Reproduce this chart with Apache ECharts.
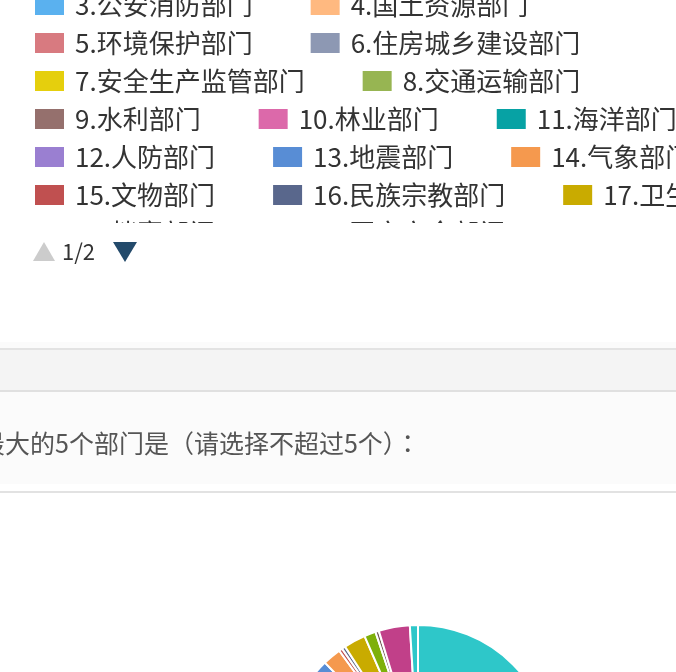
<!DOCTYPE html>
<html>
<head>
<meta charset="utf-8">
<script src="https://cdn.jsdelivr.net/npm/echarts@6/dist/echarts.min.js"></script>
<style>
html, body { margin: 0; padding: 0; background: #fff; overflow: hidden; }
#main { width: 676px; height: 672px; }
</style>
</head>
<body>
<div id="main"></div>
<script>
// 部门名称（图例 + 饼图共用）
var departments = ['1.应急管理部门', '2.民政部门', '3.公安消防部门', '4.国土资源部门', '5.环境保护部门',
    '6.住房城乡建设部门', '7.安全生产监管部门', '8.交通运输部门', '9.水利部门', '10.林业部门',
    '11.海洋部门', '12.人防部门', '13.地震部门', '14.气象部门', '15.文物部门', '16.民族宗教部门',
    '17.卫生部门', '18.档案部门', '19.国家安全部门', '20.新闻宣传部门', '21.其他'];
// 选择人数（从饼图扇区角度估读）
var counts = [216, 70, 60, 40, 50, 36, 44, 30, 24, 16, 10, 12, 24, 16, 3, 3, 19, 10, 3, 27, 7];
var palette = ['#2ec7c9', '#b6a2de', '#5ab1ef', '#ffb980', '#d87a80', '#8d98b3', '#e5cf0d', '#97b552',
    '#95706d', '#dc69aa', '#07a2a4', '#9a7fd1', '#588dd5', '#f5994e', '#c05050', '#59678c',
    '#c9ab00', '#7eb00a', '#6f5553', '#c14089'];
var pageText = '1/2';
var questionText = '最大的5个部门是（请选择不超过5个）：';

var font = '"Noto Sans CJK SC", "Noto Sans", sans-serif';
var chart = echarts.init(document.getElementById('main'));

var pieData = departments.map(function (name, i) {
    return { name: name, value: counts[i] };
});

var option = {
    animation: false,
    color: palette,
    legend: {
        left: 33,
        top: -46,
        width: 762,
        padding: 0,
        icon: 'rect',
        itemWidth: 31,
        itemHeight: 22,
        itemGap: 12,
        selectedMode: false,
        textStyle: {
            fontFamily: font,
            fontSize: 26,
            color: '#333',
            padding: [0, 44, 0, 5],
            backgroundColor: 'rgba(255,255,255,0)'
        },
        data: departments
    },
    graphic: {
        elements: [
            // 图例溢出遮罩 + 分页
            { type: 'rect', z: 100, shape: { x: 0, y: 223, width: 676, height: 119 }, style: { fill: '#fff' } },
            { type: 'polygon', z: 101, shape: { points: [[33, 261], [44, 242], [55, 261]] }, style: { fill: '#ccc' } },
            { type: 'text', z: 101, x: 62, y: 252, style: { text: pageText, font: '22px ' + font, fill: '#333', verticalAlign: 'middle' } },
            { type: 'polygon', z: 101, shape: { points: [[113, 242], [137, 242], [125, 262]] }, style: { fill: '#234a6b' } },
            // 题目区块
            { type: 'rect', z: 100, shape: { x: 0, y: 342, width: 676, height: 6 }, style: { fill: '#fbfbfb' } },
            { type: 'rect', z: 100, shape: { x: 0, y: 348, width: 676, height: 2 }, style: { fill: '#e3e3e3' } },
            { type: 'rect', z: 100, shape: { x: 0, y: 350, width: 676, height: 40 }, style: { fill: '#f4f4f4' } },
            { type: 'rect', z: 100, shape: { x: 0, y: 390, width: 676, height: 2 }, style: { fill: '#e0e0e0' } },
            { type: 'rect', z: 100, shape: { x: 0, y: 392, width: 676, height: 92 }, style: { fill: '#fbfbfb' } },
            { type: 'rect', z: 100, shape: { x: 0, y: 491, width: 676, height: 2 }, style: { fill: '#e2e2e2' } },
            { type: 'text', z: 101, x: -20, y: 443, style: { text: questionText, font: '25px "Noto Sans CJK TC", sans-serif', fill: '#555', verticalAlign: 'middle' } }
        ]
    },
    series: [{
        type: 'pie',
        center: [418, 759],
        radius: 134,
        label: { show: false },
        labelLine: { show: false },
        itemStyle: { borderColor: '#fff', borderWidth: 2 },
        data: pieData
    }]
};
chart.setOption(option);
</script>
</body>
</html>
